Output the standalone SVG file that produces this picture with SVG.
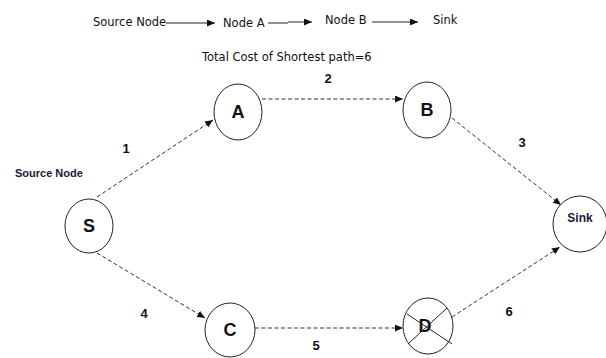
<svg xmlns="http://www.w3.org/2000/svg" width="606" height="358" viewBox="0 0 606 358">
<style>
.node{fill:#fff;stroke:#222;stroke-width:1}
.lbl{font-family:"Liberation Sans",Arial,sans-serif;font-weight:bold;font-size:18px;fill:#111;text-anchor:middle}
.num{font-family:"Liberation Sans",Arial,sans-serif;font-weight:bold;font-size:13px;fill:#111;text-anchor:middle}
.top{font-family:"DejaVu Sans",Verdana,sans-serif;font-size:11.5px;fill:#111}
.edge{stroke:#333;stroke-width:1;stroke-dasharray:4,2.5;fill:none}
.solid{stroke:#222;stroke-width:1;fill:none}
</style>
<defs>
<marker id="ah" markerUnits="userSpaceOnUse" markerWidth="8" markerHeight="7" refX="8" refY="3.5" orient="auto">
<path d="M0,0 L8,3.5 L0,7 z" fill="#111"/>
</marker>
</defs>
<rect width="606" height="358" fill="#fff"/>
<g id="header">
<text class="top" x="93" y="26">Source Node</text>
<text class="top" x="223" y="27">Node A</text>
<text class="top" x="325" y="24">Node B</text>
<text class="top" x="433" y="24">Sink</text>
<text class="top" x="202" y="61">Total Cost of Shortest path=6</text>
<line class="solid" x1="166" y1="23" x2="215" y2="23" marker-end="url(#ah)"/>
<line class="solid" x1="268" y1="23" x2="288" y2="23"/>
<line class="solid" x1="288" y1="22" x2="312" y2="22" marker-end="url(#ah)"/>
<line class="solid" x1="372" y1="22" x2="418" y2="22" marker-end="url(#ah)"/>
</g>
<g id="connectors">
<line class="edge" x1="97" y1="197" x2="213" y2="120" marker-end="url(#ah)"/>
<line class="edge" x1="262" y1="99" x2="403" y2="99" marker-end="url(#ah)"/>
<line class="edge" x1="452" y1="118" x2="561" y2="205" marker-end="url(#ah)"/>
<line class="edge" x1="97" y1="253" x2="205" y2="318" marker-end="url(#ah)"/>
<line class="edge" x1="255" y1="328" x2="403" y2="328" marker-end="url(#ah)"/>
<line class="edge" x1="452" y1="317" x2="560" y2="247" marker-end="url(#ah)"/>
<text class="num" x="126" y="153">1</text>
<text class="num" x="328" y="83">2</text>
<text class="num" x="522" y="147">3</text>
<text class="num" x="144" y="318">4</text>
<text class="num" x="316" y="350">5</text>
<text class="num" x="509" y="316">6</text>
</g>
<g id="source-label">
<text x="15" y="177" font-family="'Liberation Sans',Arial,sans-serif" font-weight="bold" font-size="11" fill="#1a1a33">Source Node</text>
</g>
<g id="node-S">
<ellipse class="node" cx="89" cy="226" rx="24" ry="27"/>
<text class="lbl" x="89" y="232">S</text>
</g>
<g id="node-A">
<ellipse class="node" cx="238" cy="112" rx="24" ry="28"/>
<text class="lbl" x="238" y="118">A</text>
</g>
<g id="node-B">
<ellipse class="node" cx="427" cy="110" rx="24" ry="28"/>
<text class="lbl" x="427" y="116">B</text>
</g>
<g id="node-C">
<ellipse class="node" cx="230" cy="330" rx="25" ry="27"/>
<text class="lbl" x="230" y="336">C</text>
</g>
<g id="node-D">
<ellipse class="node" cx="428" cy="326" rx="25" ry="28"/>
<text class="lbl" x="425" y="332">D</text>
<line class="solid" x1="407" y1="314" x2="452" y2="344"/>
<line class="solid" x1="447" y1="308" x2="408" y2="344"/>
</g>
<g id="node-Sink">
<ellipse class="node" cx="580" cy="224" rx="27" ry="28"/>
<text x="580" y="222" font-family="'Liberation Sans',Arial,sans-serif" font-weight="bold" font-size="12" fill="#1a1a33" text-anchor="middle">Sink</text>
</g>
</svg>
